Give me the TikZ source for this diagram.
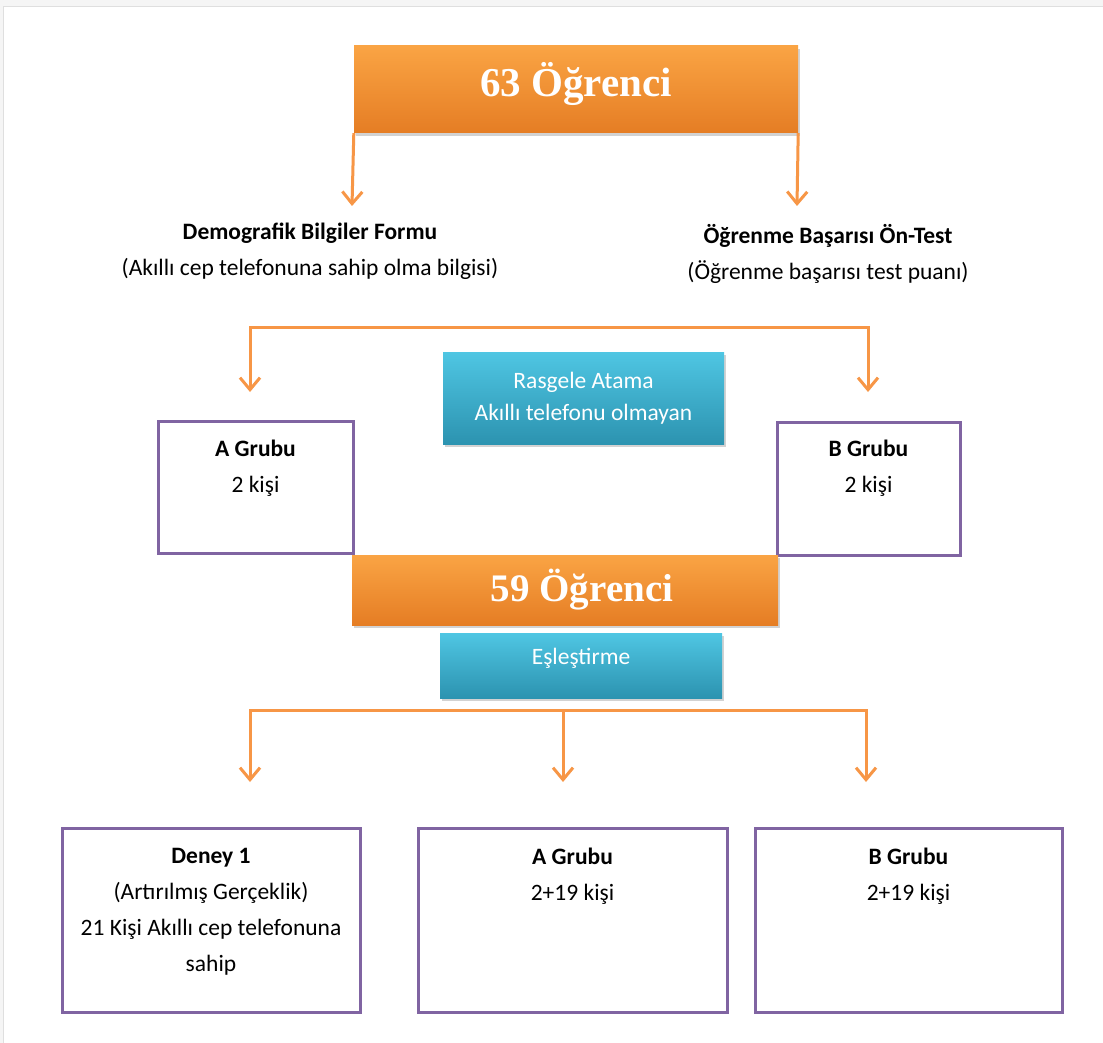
\documentclass[tikz,border=0pt]{standalone}
\usepackage{fontspec}
\setmainfont{Carlito}
\newfontfamily\titlefont{Liberation Serif}
\usepackage{tikz}
\usetikzlibrary{arrows.meta,positioning,calc,shadows}
\usepackage{xcolor}
\definecolor{orgline}{HTML}{F79646}
\definecolor{orgtop}{HTML}{FAA444}
\definecolor{orgbot}{HTML}{E57D24}
\definecolor{bluetop}{HTML}{4FC6E3}
\definecolor{bluebot}{HTML}{2C93B0}
\definecolor{purpleline}{HTML}{8064A2}

\begin{document}
\begin{tikzpicture}[
  x=1pt, y=-1pt,
  node distance=6mm,
  orgbox/.style={top color=orgtop, bottom color=orgbot,
                 drop shadow={shadow xshift=1.5pt, shadow yshift=-3pt, opacity=0.35},
                 inner sep=0pt, text=white,
                 font=\titlefont\bfseries\fontsize{41}{44}\selectfont},
  bluebox/.style={top color=bluetop, bottom color=bluebot,
                  drop shadow={shadow xshift=1.5pt, shadow yshift=-3pt, opacity=0.35},
                  inner sep=0pt, text=white, align=center,
                  font=\fontsize{23.5}{32}\selectfont},
  grp/.style={draw=purpleline, line width=3pt, fill=white, inner sep=0pt},
  txt/.style={align=center, inner sep=0pt, anchor=north,
              font=\fontsize{23.5}{36}\selectfont},
  link/.style={draw=orgline, line width=3pt, line join=miter},
  arr/.style={link, -{Straight Barb[length=12pt, width=20pt]}},
  arrs/.style={link, {Straight Barb[length=12pt, width=20pt]}-{Straight Barb[length=12pt, width=20pt]}}
]
\useasboundingbox (0,0) rectangle (1103,1043);
\fill[gray!8] (0,0) rectangle (1103,1043);
\fill[white] (3,6) rectangle (1103,1043);
\draw[gray!25] (3,1043) -- (3,6) -- (1103,6);

% top
\node[orgbox, minimum width=444pt, minimum height=87pt, text depth=20pt] (top) at (576,89.5) {63 Öğrenci};

\node[txt] (demo) at (310,223) {\textbf{Demografik Bilgiler Formu}\\(Akıllı cep telefonuna sahip olma bilgisi)};
\node[txt] (ontest) at (828,224) {\textbf{Öğrenme Başarısı Ön-Test}\\(Öğrenme başarısı test puanı)};

\coordinate (demoTip) at (352,206);
\coordinate (testTip) at (797,206);
\draw[arr] (top.south west) -- (demoTip);
\draw[arr] (top.south east) -- (testTip);

% random assignment
\node[bluebox, minimum width=281pt, minimum height=92pt] (rand) at (583.5,398) {Rasgele Atama\\Akıllı telefonu olmayan};

\node[grp, minimum width=195pt, minimum height=132pt] (grpA) at (255.5,487) {};
\node[grp, minimum width=183pt, minimum height=133pt] (grpB) at (868.5,488.5) {};
\node[txt] (grpAtxt) at (grpA.center |- 0,440) {\textbf{A Grubu}\\2 kişi};
\node[txt] (grpBtxt) at (grpB.center |- 0,440) {\textbf{B Grubu}\\2 kişi};

\coordinate (tipA) at (250,392);
\coordinate (tipB) at (868,392);
\draw[arrs] (tipA) |- (868,327) -- (tipB);

% matching
\node[orgbox, minimum width=426pt, minimum height=70pt,
      font=\titlefont\bfseries\fontsize{39}{44}\selectfont] (mid) at (565,590) {\hspace*{34pt}59 Öğrenci};
\node[bluebox, minimum width=282pt, minimum height=65pt, text depth=19pt] (match) at (581,665.5) {Eşleştirme};

\node[grp, minimum width=298pt, minimum height=184pt] (deney) at (211,920) {};
\node[grp, minimum width=309pt, minimum height=184pt] (expA) at (572.5,920) {};
\node[grp, minimum width=307pt, minimum height=184pt] (expB) at (908.5,920) {};
\node[txt] (deneyTxt) at (deney.center |- 0,848) {\textbf{Deney 1}\\(Artırılmış Gerçeklik)\\21 Kişi Akıllı cep telefonuna\\sahip};
\node[txt] (expAtxt) at (expA.center |- 0,848) {\textbf{A Grubu}\\2+19 kişi};
\node[txt] (expBtxt) at (expB.center |- 0,848) {\textbf{B Grubu}\\2+19 kişi};

\coordinate (split) at (563,710);
\coordinate (tip1) at (250,782);
\coordinate (tip2) at (563,782);
\coordinate (tip3) at (866,782);
\draw[arrs] (tip1) |- (866,710) -- (tip3);
\draw[arr] (split) -- (tip2);
\end{tikzpicture}
\end{document}
